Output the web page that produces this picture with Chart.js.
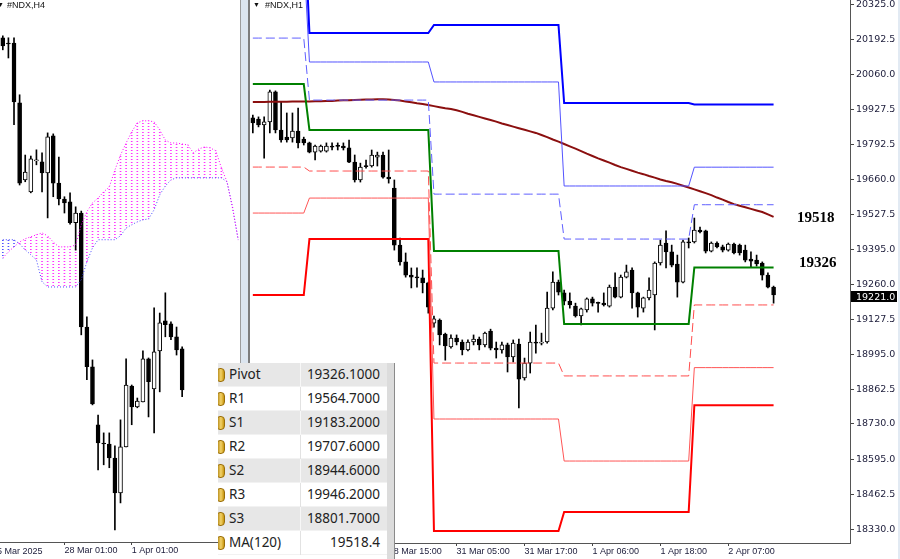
<!DOCTYPE html>
<html>
<head>
<meta charset="utf-8">
<script src="https://cdn.jsdelivr.net/npm/chart.js@4.4.1/dist/chart.umd.min.js"></script>
<style>
  body { margin: 0; width: 900px; height: 559px; overflow: hidden; background: #fff; position: relative; font-family: "Liberation Sans", sans-serif; color: #1c1c3a; }
  canvas { position: absolute; top: 0; }
  #h4 { left: 0; }
  #h1 { left: 250px; }
  .abs { position: absolute; white-space: nowrap; }
  .divider { position: absolute; left: 240px; top: 0; width: 7px; height: 559px; background: #dce5ef; border-left: 1px solid #9c9c9c; border-right: 2px solid #7d7d7d; }
  .edge { position: absolute; left: 898px; top: 0; width: 2px; height: 559px; background: #e2eaf3; }
  .title { font-size: 9px; line-height: 10px; top: 0; color: #111; }
  .tri { font-size: 7px; line-height: 10px; top: 0; color: #111; }
  .lvl { font-family: "Liberation Serif", serif; font-weight: bold; font-size: 15px; line-height: 16px; color: #000; }
  .price { left: 851px; top: 291px; width: 41px; height: 11px; padding-left: 5px; background: #000; color: #fff; font-family: "DejaVu Sans", sans-serif; font-size: 9.5px; line-height: 11px; }
  .datelbl { font-size: 9px; line-height: 11px; top: 546px; }
  #tbl { position: absolute; left: 218px; top: 363px; width: 177px; height: 196px; overflow: hidden; background: #fff; font-family: "Noto Sans", "Open Sans", sans-serif; font-size: 13.5px; color: #222; }
  .row { position: absolute; left: 0; width: 169px; height: 24px; border-bottom: 1px solid #f2f2f2; box-sizing: border-box; }
  .row.g { background: #e7e7e7; }
  .nm { position: absolute; left: 11px; top: 0; line-height: 23px; }
  .vl { position: absolute; right: 7px; top: 0; line-height: 23px; }
  .sep { position: absolute; left: 82px; top: 0; width: 1px; height: 24px; background: #f7f7f7; }
  .row:not(.g) .sep { background: #e2e2e2; }
  .ico { position: absolute; left: -2px; top: 5px; width: 9px; height: 14px; border-radius: 4px; background: linear-gradient(90deg, #a87a0a, #f3d36a 55%, #c8960f); border: 1px solid #9a6e08; box-sizing: border-box; }
  .strip { position: absolute; left: 169px; top: 0; width: 7px; height: 196px; background: #dcdcdc; border-right: 1px solid #8a8a8a; }
</style>
</head>
<body>
<canvas id="h4" width="241" height="559"></canvas>
<div class="divider"></div>
<canvas id="h1" width="650" height="559"></canvas>
<div class="edge"></div>

<span class="abs tri" style="left:-3px">▼</span>
<span class="abs title" style="left:7px">#NDX,H4</span>
<span class="abs tri" style="left:253px">▼</span>
<span class="abs title" style="left:265px">#NDX,H1</span>
<span class="abs datelbl" style="left:-8px">25 Mar 2025</span>

<div class="abs lvl" style="left:797px; top:209px">19518</div>
<div class="abs lvl" style="left:799px; top:254px">19326</div>
<div class="abs price">19221.0</div>

<div id="tbl"><div class="strip"></div></div>

<script>
// ---- H4 pane (left) ----
const h4Open  = [20302, 20286, 20286, 20102, 19866, 19829, 19924, 19921, 19887, 20001, 19856, 19807, 19798, 19734, 19764, 19414, 19292,
                 19114, 19058, 19055, 19012, 18905, 19046, 19233, 19169, 19184, 19316, 19224, 19341, 19433, 19424, 19384, 19347];
const h4High  = [20308, 20302, 20302, 20127, 19942, 19939, 19958, 19949, 20010, 20007, 19936, 19814, 19826, 19783, 19770, 19445, 19313,
                 19144, 19089, 19089, 19049, 19129, 19316, 19236, 19196, 19341, 19319, 19473, 19457, 19519, 19430, 19414, 19353];
const h4Low   = [20265, 20240, 20035, 19850, 19860, 19826, 19912, 19829, 19749, 19814, 19789, 19764, 19730, 19650, 19390, 19252, 19175,
                 18975, 18991, 18982, 18791, 18874, 19046, 19114, 19166, 19184, 19138, 19089, 19215, 19384, 19375, 19328, 19200];
const h4Close = [20277, 20283, 20105, 19856, 19890, 19930, 19926, 19887, 19998, 19856, 19807, 19795, 19734, 19764, 19414, 19292, 19178,
                 19058, 19055, 19012, 18905, 19046, 19236, 19169, 19187, 19316, 19246, 19338, 19427, 19421, 19384, 19344, 19221];
// Ichimoku cloud, shifted 26 bars ahead
const spanA = [19626, 19645, 19660, 19675, 19685, 19691, 19697, 19703, 19694, 19675, 19660, 19660, 19660, 19666, 19728, 19768, 19795,
               19810, 19829, 19844, 19896, 19942, 19979, 20013, 20041, 20047, 20047, 20044, 20019, 19988, 19979, 19979, 19976, 19973,
               19949, 19961, 19967, 19964, 19955, 19903, 19860, 19780, 19682];
const spanB = [19682, 19682, 19682, 19669, 19651, 19636, 19620, 19553, 19537, 19537, 19537, 19537, 19537, 19537, 19559, 19614, 19657,
               19682, 19682, 19682, 19682, 19694, 19718, 19728, 19737, 19743, 19746, 19774, 19820, 19847, 19866, 19872, 19872, 19872,
               19872, 19872, 19872, 19872, 19872, 19872, 19860, 19780, 19682];
const h4TickIndex  = [11, 23];
const h4TickLabels = ['28 Mar 01:00', '1 Apr 01:00'];

// ---- H1 pane (right) ----
const h1Open  = [19895, 19891, 19868, 19880, 19994, 19849, 19822, 19819, 19845, 19815, 19800, 19765, 19769, 19769, 19788, 19788, 19788,
                 19781, 19727, 19659, 19712, 19712, 19746, 19754, 19670, 19628, 19411, 19347, 19297, 19289, 19286, 19267, 19114, 19126,
                 19072, 19023, 19057, 19042, 19012, 19042, 19053, 19031, 19084, 19019, 19012, 19031, 18985, 19034, 18905, 18962, 19042,
                 19038, 19042, 19171, 19270, 19229, 19198, 19179, 19141, 19164, 19206, 19190, 19190, 19179, 19251, 19213, 19289, 19316,
                 19229, 19171, 19210, 19221, 19343, 19419, 19385, 19339, 19270, 19423, 19423, 19468, 19465, 19388, 19419, 19404, 19392,
                 19415, 19411, 19392, 19358, 19354, 19343, 19297, 19251];
const h1High  = [19906, 19899, 19899, 20001, 19998, 19956, 19914, 19914, 19933, 19822, 19803, 19792, 19792, 19800, 19800, 19800, 19800,
                 19811, 19754, 19723, 19735, 19773, 19765, 19765, 19773, 19659, 19438, 19381, 19324, 19324, 19316, 19270, 19141, 19130,
                 19076, 19069, 19069, 19050, 19050, 19069, 19061, 19080, 19091, 19042, 19042, 19038, 19050, 19053, 18981, 19080, 19107,
                 19076, 19232, 19309, 19278, 19240, 19229, 19190, 19171, 19210, 19213, 19194, 19229, 19259, 19305, 19297, 19335, 19324,
                 19232, 19213, 19286, 19347, 19430, 19465, 19411, 19373, 19430, 19438, 19514, 19480, 19468, 19423, 19423, 19411, 19419,
                 19419, 19415, 19411, 19385, 19373, 19347, 19305, 19255];
const h1Low   = [19838, 19861, 19742, 19838, 19838, 19803, 19803, 19803, 19781, 19792, 19762, 19735, 19765, 19765, 19773, 19773, 19773,
                 19725, 19651, 19651, 19704, 19708, 19712, 19666, 19647, 19392, 19335, 19289, 19248, 19251, 19229, 19152, 19099, 19031,
                 18973, 19019, 19031, 18993, 19008, 19031, 19012, 19023, 19012, 18981, 19000, 18928, 18966, 18791, 18897, 18924, 19000,
                 19031, 19038, 19164, 19221, 19183, 19171, 19137, 19107, 19156, 19179, 19156, 19179, 19175, 19210, 19210, 19286, 19171,
                 19137, 19156, 19202, 19088, 19335, 19324, 19328, 19213, 19267, 19400, 19419, 19457, 19381, 19385, 19400, 19385, 19388,
                 19377, 19373, 19347, 19328, 19331, 19278, 19248, 19190];
const h1Close = [19876, 19868, 19880, 19994, 19849, 19811, 19811, 19845, 19800, 19800, 19765, 19788, 19788, 19788, 19784, 19787, 19781,
                 19727, 19659, 19708, 19710, 19754, 19754, 19670, 19663, 19411, 19347, 19297, 19289, 19286, 19267, 19175, 19130, 19069,
                 19027, 19057, 19042, 19012, 19042, 19053, 19031, 19076, 19019, 19012, 19031, 18985, 19038, 18901, 18962, 19042, 19038,
                 19042, 19171, 19270, 19232, 19198, 19183, 19141, 19168, 19206, 19190, 19189, 19183, 19251, 19213, 19289, 19309, 19229,
                 19175, 19210, 19240, 19343, 19411, 19385, 19335, 19270, 19423, 19419, 19468, 19461, 19388, 19419, 19404, 19392, 19415,
                 19381, 19381, 19354, 19350, 19339, 19297, 19251, 19221];
const ma120   = [19956, 19956, 19956, 19957, 19957, 19957, 19957, 19958, 19958, 19958, 19958, 19959, 19959, 19960, 19960, 19961, 19962,
                 19962, 19963, 19964, 19965, 19965, 19966, 19966, 19965, 19963, 19961, 19958, 19955, 19951, 19948, 19944, 19940, 19936,
                 19932, 19929, 19924, 19918, 19911, 19905, 19899, 19893, 19887, 19881, 19874, 19868, 19862, 19856, 19850, 19844, 19838,
                 19830, 19822, 19813, 19805, 19796, 19787, 19778, 19769, 19759, 19750, 19741, 19733, 19725, 19716, 19708, 19701, 19694,
                 19687, 19681, 19674, 19668, 19661, 19655, 19650, 19644, 19637, 19630, 19623, 19616, 19609, 19601, 19592, 19584, 19575,
                 19567, 19561, 19555, 19549, 19543, 19537, 19528, 19518.4];
// daily pivot levels: 27 Mar, 28 Mar, 31 Mar, 1 Apr, 2 Apr (first bar of each day)
const dayStart = [0, 10, 32, 55, 78];
const pivotP  = [20024, 19849, 19389, 19111, 19326.1];
const pivotR1 = [20199, 19963, 19605, 19434, 19564.7];
const pivotS1 = [19708, 19693, 18962, 18913, 19183.2];
const pivotR2 = [20515, 20108, 20032, 19636, 19707.6];
const pivotS2 = [19533, 19590, 18749, 18589, 18944.6];
const pivotR3 = [20690, 20218, 20249, 19952, 19946.2];
const pivotS3 = [19221, 19434, 18323, 18395, 18801.7];
const h1PriceTicks = [20325, 20192.5, 20060, 19927.5, 19792.5, 19660, 19527.5, 19395, 19260, 19127.5, 18995, 18862.5, 18730, 18595, 18462.5, 18330];
const h1TickIndex  = [24, 36, 48, 60, 72, 84];
const h1TickLabels = ['28 Mar 15:00', '31 Mar 05:00', '31 Mar 17:00', '1 Apr 06:00', '1 Apr 18:00', '2 Apr 07:00'];

// ---- pivot table ----
const tableNames  = ['Pivot', 'R1', 'S1', 'R2', 'S2', 'R3', 'S3', 'MA(120)'];
const tableValues = ['19326.1000', '19564.7000', '19183.2000', '19707.6000', '18944.6000', '19946.2000', '18801.7000', '19518.4'];

const tbl = document.getElementById('tbl');
tableNames.forEach((name, i) => {
  const row = document.createElement('div');
  row.className = 'row' + (i % 2 === 0 ? ' g' : '');
  row.style.top = (i * 24) + 'px';
  row.innerHTML = `<span class="ico"></span><span class="nm">${name}</span><span class="sep"></span><span class="vl">${tableValues[i]}</span>`;
  tbl.appendChild(row);
});

Chart.defaults.font.family = '"Liberation Sans", sans-serif';
Chart.defaults.animation = false;

const axisColor = '#1c1c3a';
const noPad = s => { s.paddingTop = 0; s.paddingBottom = 0; s.paddingLeft = 0; s.paddingRight = 0; };

function xScale(tickIndex, tickLabels, height) {
  return {
    offset: true,
    afterBuildTicks: s => { s.ticks = tickIndex.map(v => ({ value: v })); },
    afterFit: s => { s.height = height; noPad(s); },
    ticks: {
      callback: v => tickLabels[tickIndex.indexOf(v)],
      autoSkip: false, maxRotation: 0, minRotation: 0, align: 'start', padding: 0,
      font: { size: 9 }, color: axisColor
    },
    grid: { drawOnChartArea: false, offset: false, tickLength: 3, color: '#444' },
    border: { display: true, color: '#555' }
  };
}

function candleSets(open, high, low, close) {
  return [
    {
      type: 'bar', data: open.map((o, i) => [o, close[i]]),
      backgroundColor: c => close[c.dataIndex] >= open[c.dataIndex] ? '#fff' : '#000',
      borderColor: '#000', borderWidth: 1, borderSkipped: false,
      barThickness: 4, minBarLength: 1, grouped: false, order: 1
    },
    {
      type: 'bar', data: low.map((l, i) => [l, high[i]]),
      backgroundColor: '#000', barThickness: 1, grouped: false, order: 2
    }
  ];
}

// ---------- H4 chart ----------
const h4ctx = document.getElementById('h4').getContext('2d');
function dotPattern(color) {
  const c = document.createElement('canvas');
  c.width = 1; c.height = 3;
  const g = c.getContext('2d');
  g.fillStyle = color;
  g.fillRect(0, 0, 1, 1);
  return h4ctx.createPattern(c, 'repeat');
}
const pinkDots = dotPattern('#ff33ff');
const blueDots = dotPattern('#5050ff');

new Chart(h4ctx, {
  type: 'bar',
  data: {
    labels: spanA.map((_, i) => i),
    datasets: [
      { type: 'line', data: spanA, borderColor: '#ff00ff', borderWidth: 1, borderDash: [1, 2], pointRadius: 0, tension: 0, order: 0 },
      { type: 'line', data: spanB, borderColor: '#4646ff', borderWidth: 1, borderDash: [1, 2], pointRadius: 0, tension: 0, order: 0 },
      ...candleSets(h4Open, h4High, h4Low, h4Close),
      {
        type: 'bar', data: spanA.map((a, i) => [a, spanB[i]]),
        backgroundColor: c => spanA[c.dataIndex] >= spanB[c.dataIndex] ? pinkDots : blueDots,
        barThickness: 1, grouped: false, order: 3
      }
    ]
  },
  options: {
    responsive: false, events: [],
    layout: { padding: 0 },
    plugins: { legend: { display: false }, tooltip: { enabled: false } },
    scales: {
      x: xScale(h4TickIndex, h4TickLabels, 17),
      y: { display: false, min: 18754, max: 20418 }
    }
  }
});

// ---------- H1 chart ----------
function dayOf(i) {
  let d = 0;
  while (d + 1 < dayStart.length && i >= dayStart[d + 1]) d++;
  return d;
}
const perBar = levels => h1Close.map((_, i) => levels[dayOf(i)]);
function levelLine(levels, color, width, dash) {
  return { type: 'line', data: perBar(levels), borderColor: color, borderWidth: width, borderDash: dash || [],
           pointRadius: 0, tension: 0, fill: false, order: 0 };
}

new Chart(document.getElementById('h1'), {
  type: 'bar',
  data: {
    labels: Array.from({ length: 106 }, (_, i) => i),
    datasets: [
      levelLine(pivotR3, '#0000ff', 2),
      levelLine(pivotR2, '#5353ff', 1),
      levelLine(pivotR1, '#5f5fff', 1, [9, 4]),
      levelLine(pivotP, '#008000', 2),
      levelLine(pivotS1, '#ff4d4d', 1, [9, 4]),
      levelLine(pivotS2, '#ff5555', 1),
      levelLine(pivotS3, '#ff0000', 2),
      { type: 'line', data: ma120, borderColor: '#8b0f0f', borderWidth: 2, pointRadius: 0, tension: 0, order: 0 },
      ...candleSets(h1Open, h1High, h1Low, h1Close)
    ]
  },
  options: {
    responsive: false, events: [],
    layout: { padding: 0 },
    plugins: { legend: { display: false }, tooltip: { enabled: false } },
    scales: {
      x: xScale(h1TickIndex, h1TickLabels, 16),
      y: {
        position: 'right', min: 18277, max: 20344,
        afterBuildTicks: s => { s.ticks = h1PriceTicks.map(v => ({ value: v })); },
        afterFit: s => { s.width = 50; noPad(s); },
        ticks: { callback: v => v.toFixed(1), autoSkip: false, padding: 2,
                 font: { family: '"DejaVu Sans", sans-serif', size: 9.5 }, color: axisColor },
        grid: { drawOnChartArea: false, tickLength: 4, color: '#444' },
        border: { display: true, color: '#555' }
      }
    }
  }
});
</script>
</body>
</html>
